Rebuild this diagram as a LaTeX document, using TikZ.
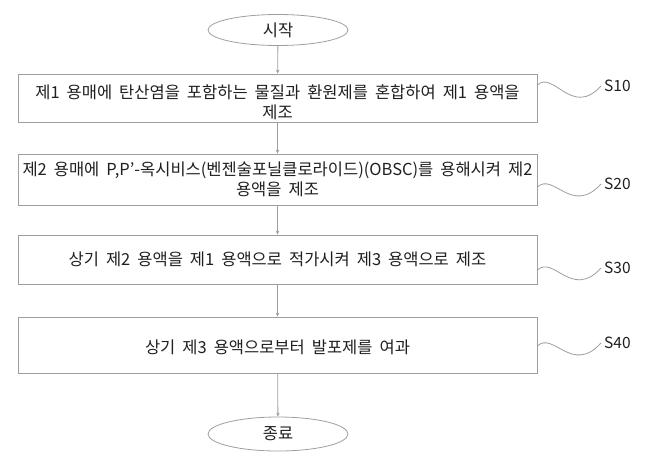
\documentclass[tikz,border=0pt]{standalone}
\usepackage{fontspec}
\setmainfont{Noto Sans CJK KR}[WordSpace=1.9]
\usetikzlibrary{shapes.geometric,arrows.meta}
\begin{document}
\begin{tikzpicture}[x=1pt,y=-1pt,
  line/.style={draw=black!38,line width=0.8pt},
  stepbox/.style={line,rectangle,minimum width=519pt,inner sep=0pt},
  steptext/.style={align=center,inner sep=0pt,text=black!88,font=\fontsize{16.5}{20}\selectfont},
  term/.style={line,ellipse,minimum width=140pt,inner sep=0pt,text=black!88,font=\fontsize{16.5}{18}\selectfont},
  arr/.style={line,-{Stealth[length=4pt,width=3.5pt]}},
  lbl/.style={anchor=west,inner sep=3pt,text=black!88,font=\fontsize{15.5}{18}\selectfont}]
\useasboundingbox (0,0) rectangle (653,466);

\node[term,minimum height=31pt] (start) at (278,30) {시작};
\node[stepbox,minimum height=48pt] (s10) at (277.5,98) {};
\node[stepbox,minimum height=51pt] (s20) at (277.5,179.5) {};
\node[stepbox,minimum height=49pt] (s30) at (277.5,259.5) {};
\node[stepbox,minimum height=56pt] (s40) at (277.5,345) {};
\node[term,minimum height=34pt] (end) at (278,434) {종료};

\node[steptext] (t10) at ([yshift=-4pt]s10) {제1 용매에 탄산염을 포함하는 물질과 환원제를 혼합하여 제1 용액을\\제조};
\node[steptext] (t20) at (s20) {제2 용매에 P,P'-옥시비스(벤젠술포닐클로라이드)(OBSC)를 용해시켜 제2\\용액을 제조};
\node[steptext] (t30) at (s30) {상기 제2 용액을 제1 용액으로 적가시켜 제3 용액으로 제조};
\node[steptext] (t40) at ([yshift=-2pt]s40) {상기 제3 용액으로부터 발포제를 여과};

\draw[arr] (start) -- (s10);
\draw[arr] (s10) -- (s20);
\draw[arr] (s20) -- (s30);
\draw[arr] (s30) -- (s40);
\draw[arr] (s40) -- (end);

\foreach \n/\ys/\yl in {10/85/86, 20/187/184, 30/270/268, 40/346/343} {
  \node[lbl] (l\n) at (601,\yl) {S\n};
  \draw[line] (s\n.east |- 0,\ys) .. controls +(16,-15) and +(-29,32) .. (l\n.west);
}
\end{tikzpicture}
\end{document}
